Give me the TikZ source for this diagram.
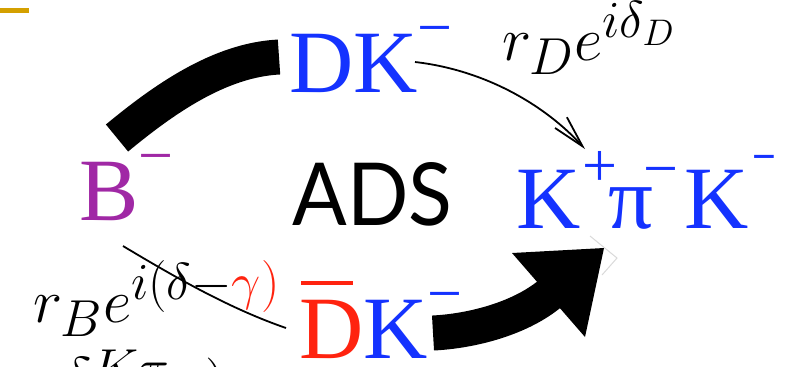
\RequirePackage{fix-cm}
\documentclass[tikz,border=0pt]{standalone}
\usepackage[no-math]{fontspec}
\usepackage{graphicx}
\setmainfont{Liberation Serif}
\newfontfamily\adsfont{Lato}
\usetikzlibrary{arrows.meta}
\DeclareMathSizes{31}{31}{26}{18.5}

\definecolor{pblue}{RGB}{20,50,255}
\definecolor{pred}{RGB}{255,35,15}
\definecolor{ppurple}{RGB}{160,40,165}
\definecolor{pgold}{RGB}{212,160,0}

% raised charge sign (optional raise in pt)
\newcommand{\chgsup}[2][21.75pt]{\raisebox{#1}{\fontsize{31}{31}\selectfont #2}}
% bar over the D of the anti-D meson
\newcommand{\dbar}{\rlap{\hspace{1pt}\raisebox{36.5pt}{\rule{26pt}{1.8pt}}}D}

\begin{document}
\begin{tikzpicture}[x=0.5pt,y=-0.5pt,
  heavy/.style={line width=17.5pt, line cap=butt},
  thinline/.style={line width=0.9pt},
  particle/.style={inner sep=0pt, anchor=base west, font=\fontsize{44.5}{50}\selectfont},
  amp/.style={inner sep=0pt, anchor=base west, font=\fontsize{31}{36}\selectfont},
]
\useasboundingbox (0,0) rectangle (785,366);
\clip (0,0) rectangle (785,366);

% small gold bar in the corner
\fill[pgold] (0,8) rectangle (29,13);

% particle states
\node[particle, text=ppurple] (b) at (79,220) {B\chgsup{−}};
\node[particle, text=pblue] (dk) at (289,92) {DK\chgsup{−}};
\node[particle, text=pblue] (dbk) at (299,358) {\textcolor{pred}{\dbar}K\chgsup{−}};
\node[particle, text=pblue] (kpk) at (516,228)
  {K\kern1pt\chgsup[21pt]{+}\kern-4.5pt π\kern-5pt\chgsup[19.5pt]{−}\kern3pt K\kern2pt\chgsup[25.5pt]{\scalebox{0.68}[1]{−}}};
\node[inner sep=0pt, anchor=base west] (ads) at (292,225) {\resizebox{80pt}{31.5pt}{\adsfont ADS}};

% amplitude labels
\node[amp] (ld) at (502,60) {$r_D e^{i\delta_D}$};
\node[amp] (lb) at (33,322) {$r_B e^{i(\delta-\color{pred}\gamma)}$};
\node[amp] (lc) at (62,400) {$\delta$\raisebox{-4pt}{$^{K\pi}$}};
\node[amp] (lp) at (205,404) {$)$};

% connector end points
\coordinate (bup) at (117,138);
\coordinate (dkin) at (279,57);
\coordinate (dkout) at (415,62);
\coordinate (kin) at (585,149);
\coordinate (bdown) at (123,246);
\coordinate (dbin) at (286,328);
\coordinate (dbout) at (433,333);
\coordinate (hbase) at (552,292);

% favoured B -> D K
\draw[heavy] (bup) .. controls (163,100) and (219,60) .. (dkin);
% suppressed D decay
\draw[thinline, -{Straight Barb[length=16pt,width=8pt]}] (dkout) .. controls (485,70) and (545,105) .. (kin);
% suppressed B decay
\draw[thinline] (bdown) .. controls (178,279) and (231,309) .. (dbin);
% favoured anti-D decay
\draw[heavy] (dbout) .. controls (473,331) and (522,318) .. (hbase);
\fill (512,253) -- (604,248) -- (585,337) -- cycle;
\draw[gray!30, line width=0.5pt] (590,236) -- (617,258) -- (602,275);
\end{tikzpicture}
\end{document}
